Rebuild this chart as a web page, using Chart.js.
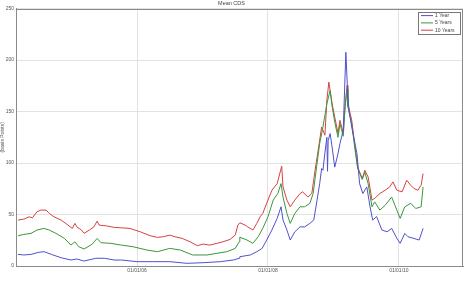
<!DOCTYPE html>
<html>
<head>
<meta charset="utf-8">
<script src="https://cdn.jsdelivr.net/npm/chart.js@4/dist/chart.umd.min.js"></script>
<style>
html,body{margin:0;padding:0;background:#fff;}
#wrap{width:468px;height:281px;position:relative;}
</style>
</head>
<body>
<div id="wrap"><canvas id="c" width="468" height="281"></canvas></div>
<script>
// Time in decimal years
const t1 = [2004.18,2004.27,2004.38,2004.50,2004.58,2004.69,2004.84,2004.99,2005.08,2005.19,2005.37,2005.50,2005.65,2005.76,2006.00,2006.24,2006.50,2006.76,2007.01,2007.27,2007.47,2007.56,2007.57,2007.73,2007.83,2007.91,2007.98,2008.06,2008.14,2008.20,2008.23,2008.29,2008.34,2008.41,2008.49,2008.56,2008.64,2008.70,2008.75,2008.79,2008.82,2008.84,2008.87,2008.90,2008.91,2008.92,2008.95,2008.98,2009.02,2009.07,2009.10,2009.15,2009.19,2009.22,2009.24,2009.28,2009.36,2009.40,2009.45,2009.51,2009.56,2009.60,2009.66,2009.74,2009.82,2009.89,2009.97,2010.02,2010.09,2010.14,2010.23,2010.31,2010.37];
const v1 = [11.3,10.7,11.3,13.3,13.9,11.3,8,5.8,6.8,4.8,7.5,7.5,5.8,5.8,4.2,4.2,4.2,2.6,3.2,4.2,5.8,7.5,9,10.7,13.9,17.1,25.2,34.9,46.2,57.5,44.6,34.9,25.2,33.2,38,38,41.4,44.6,64,80,94.7,93,110,125,92,122,128.6,115.6,96,109,119,131.8,207.6,165,150,135,109,80,70.4,76.8,57.5,44.6,48,35,33.2,36.5,26.8,22,31.7,28.4,26.8,25.2,36.5];

const t5 = [2004.18,2004.27,2004.38,2004.47,2004.58,2004.66,2004.76,2004.89,2004.99,2005.05,2005.11,2005.19,2005.31,2005.39,2005.45,2005.60,2005.76,2005.94,2006.15,2006.31,2006.50,2006.66,2006.85,2007.07,2007.22,2007.37,2007.50,2007.56,2007.57,2007.68,2007.77,2007.85,2007.92,2008.00,2008.08,2008.15,2008.20,2008.23,2008.29,2008.34,2008.41,2008.49,2008.56,2008.64,2008.69,2008.75,2008.79,2008.84,2008.90,2008.95,2008.98,2009.02,2009.07,2009.10,2009.15,2009.18,2009.21,2009.22,2009.28,2009.33,2009.37,2009.44,2009.48,2009.53,2009.59,2009.63,2009.71,2009.79,2009.89,2009.94,2010.02,2010.09,2010.18,2010.26,2010.34,2010.37];
const v5 = [29.4,30.7,31.7,34.9,36.5,34.9,31.7,26.8,20.3,23.5,18.7,16.5,21,26.8,22.6,22,20.3,18.7,15.5,13.9,17.1,15.5,10.7,10.7,12.3,13.9,17.1,23.5,28,25.2,22,28.4,36.5,47.8,64,70.4,80,67,51,41.4,51,57.5,57.5,60.8,70.4,99.5,119,135,157.6,170.5,155,140,125,138,126,155,172,155,138,113,95,84,91,80,57.5,62.3,54.3,59,67,59,46.2,57.5,60.8,55.9,57.5,76.8];

const t10 = [2004.18,2004.27,2004.35,2004.40,2004.47,2004.53,2004.61,2004.66,2004.73,2004.84,2004.93,2005.01,2005.05,2005.08,2005.15,2005.19,2005.27,2005.34,2005.39,2005.42,2005.53,2005.65,2005.76,2005.89,2006.05,2006.20,2006.31,2006.40,2006.50,2006.58,2006.69,2006.81,2006.92,2007.01,2007.11,2007.22,2007.31,2007.42,2007.50,2007.54,2007.57,2007.65,2007.69,2007.77,2007.83,2007.88,2007.92,2008.00,2008.06,2008.14,2008.21,2008.23,2008.29,2008.34,2008.41,2008.49,2008.53,2008.61,2008.67,2008.72,2008.76,2008.82,2008.87,2008.90,2008.93,2008.98,2009.02,2009.07,2009.10,2009.15,2009.18,2009.21,2009.22,2009.28,2009.33,2009.37,2009.44,2009.48,2009.53,2009.59,2009.63,2009.71,2009.79,2009.86,2009.91,2009.97,2010.05,2010.12,2010.18,2010.23,2010.29,2010.34,2010.37];
const v10 = [44.6,45.5,47.8,46.8,52.6,54.3,54.3,51,47.8,44.6,40.4,36.5,41.4,38,34.9,31.7,34.9,38,43.6,39.7,39,37.5,37.1,36.5,33.2,29.4,27.8,28.4,30,28.4,26.8,23.5,19.7,21.3,20.3,22,23.5,25.8,30,39.7,42,39.7,38,34.9,41.4,47.8,51,64,73.6,80,97,76.8,64,57.5,64,70.4,72,67,70.4,93,109.5,135,127,161,178.6,158,144.7,129,141.5,129,158,175.4,158,141.5,115.6,96.2,85,93,86.5,64,65.6,70.4,73.6,76.8,81.7,73.6,72,83.3,78.5,75.3,73.6,78.5,89.8];

const seriesLabels = ['1 Year','5 Years','10 Years'];
const seriesColors = ['rgb(80,80,205)','rgb(60,150,60)','rgb(215,65,65)'];
const xTickYears = [2006, 2008, 2010];
const xTickLabels = ['01/01/06','01/01/08','01/01/10'];
const yTicks = [0,50,100,150,200,250];

function pts(t, v){ return t.map((x,i)=>({x:x, y:v[i]})); }

const boxPlugin = {
  id:'boxLegend',
  afterDraw(chart){
    const ctx = chart.ctx, ca = chart.chartArea;
    ctx.save();
    ctx.strokeStyle = '#8a8a8a';
    ctx.lineWidth = 1;
    ctx.strokeRect(Math.round(ca.left)+0.5, Math.round(ca.top)+0.5, Math.round(ca.right-ca.left)-1, Math.round(ca.bottom-ca.top));
    // legend
    const bw = 42, bh = 22;
    const bx = ca.right - 3 - bw, by = ca.top + 3.5;
    ctx.fillStyle = '#fff';
    ctx.fillRect(bx, by, bw, bh);
    ctx.strokeStyle = '#777';
    ctx.strokeRect(Math.round(bx)+0.5, Math.round(by)+0.5, bw, bh);
    ctx.font = '5px "Liberation Sans", Arial, sans-serif';
    ctx.textBaseline = 'middle';
    chart.data.datasets.forEach((ds, i) => {
      const yy = by + 3.5 + i*7.3;
      ctx.strokeStyle = ds.borderColor;
      ctx.beginPath(); ctx.moveTo(bx+3, yy); ctx.lineTo(bx+15, yy); ctx.stroke();
      ctx.fillStyle = '#444';
      ctx.fillText(ds.label, bx+17, yy);
    });
    ctx.restore();
  }
};

new Chart(document.getElementById('c'), {
  type:'line',
  data:{
    datasets:[
      {label:seriesLabels[0], data:pts(t1,v1), borderColor:seriesColors[0]},
      {label:seriesLabels[1], data:pts(t5,v5), borderColor:seriesColors[1]},
      {label:seriesLabels[2], data:pts(t10,v10), borderColor:seriesColors[2]}
    ]
  },
  options:{
    responsive:false,
    animation:false,
    layout:{padding:{left:0,right:5,top:0,bottom:0}},
    elements:{line:{borderWidth:1, tension:0}, point:{radius:0}},
    plugins:{
      legend:{display:false},
      tooltip:{enabled:false},
      title:{display:true, text:'Mean CDS', color:'#444', font:{size:5.5, weight:'normal', family:'"Liberation Sans", Arial, sans-serif'}, padding:{top:0.5,bottom:1.5}}
    },
    scales:{
      x:{
        type:'linear', min:2004.15, max:2010.98,
        afterBuildTicks(s){ s.ticks = xTickYears.map(v=>({value:v})); },
        afterFit(s){ s.height = 15; },
        ticks:{autoSkip:false, maxRotation:0, padding:2, color:'#555', font:{size:5, family:'"Liberation Sans", Arial, sans-serif'},
          callback(v){ const i = xTickYears.indexOf(v); return i>=0 ? xTickLabels[i] : ''; }},
        grid:{color:'#e2e2e2', drawTicks:false},
        border:{color:'#8a8a8a'}
      },
      y:{
        min:0, max:250,
        afterBuildTicks(s){ s.ticks = yTicks.map(v=>({value:v})); },
        afterFit(s){ s.width = 16; },
        ticks:{padding:2, color:'#555', font:{size:5, family:'"Liberation Sans", Arial, sans-serif'}},
        grid:{color:'#e2e2e2', drawTicks:false},
        border:{color:'#8a8a8a'},
        title:{display:true, text:'(basis Points)', color:'#555', padding:0, font:{size:5, family:'"Liberation Sans", Arial, sans-serif'}}
      }
    }
  },
  plugins:[boxPlugin]
});
</script>
</body>
</html>
